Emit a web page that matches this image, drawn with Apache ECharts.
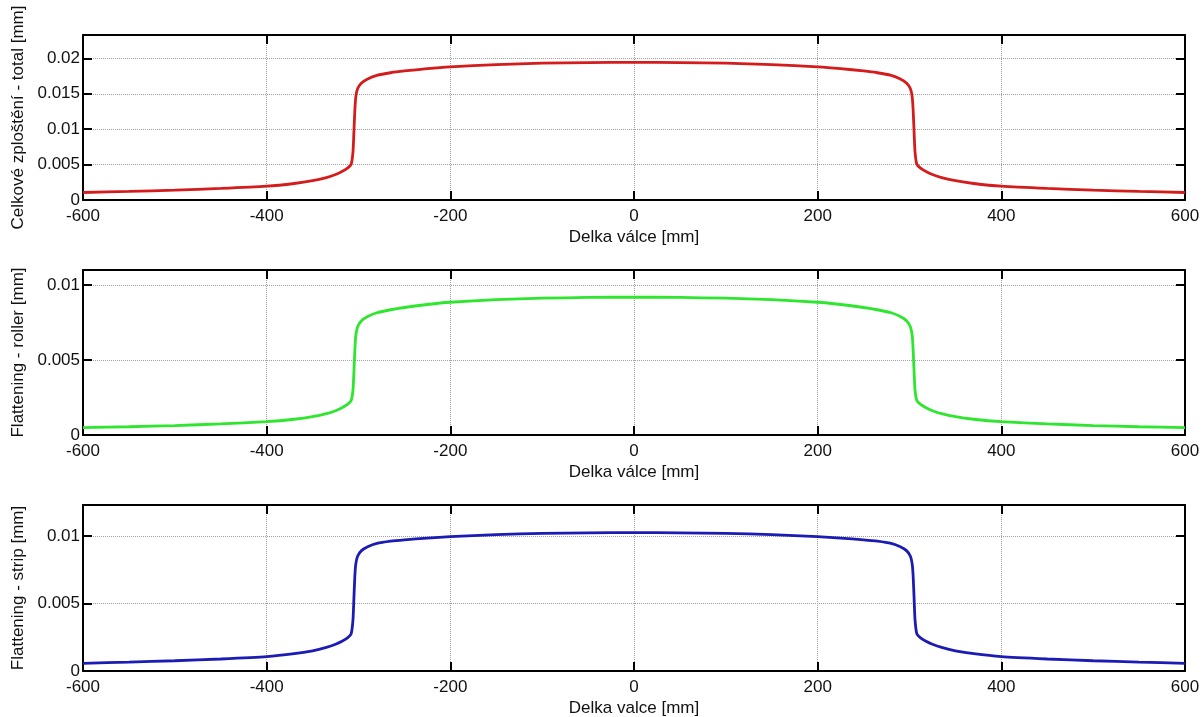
<!DOCTYPE html>
<html>
<head>
<meta charset="utf-8">
<script src="https://cdn.jsdelivr.net/npm/echarts@6/dist/echarts.min.js"></script>
<style>
  html, body { margin: 0; padding: 0; background: #fff; }
  #main { width: 1203px; height: 717px; }
</style>
</head>
<body>
<div id="main"></div>
<script>
// roller length positions [mm]
var xs = [-600, -550, -500, -450, -400, -370, -350, -335, -325, -318, -312, -308, -306, -305, -304, -303, -301, -297, -290, -280, -265, -250, -225, -200, -150, -100, -50, 0,
          50, 100, 150, 200, 225, 250, 265, 280, 290, 297, 301, 303, 304, 305, 306, 308, 312, 318, 325, 335, 350, 370, 400, 450, 500, 550, 600];

// total flattening [mm]
var total = [0.00106, 0.00121, 0.00139, 0.00163, 0.00195, 0.00233, 0.00272, 0.00317, 0.00360, 0.00402, 0.00449, 0.00505, 0.00680, 0.00960, 0.01260, 0.01450, 0.01570, 0.01650, 0.01710, 0.01760, 0.01797, 0.01822, 0.01855, 0.01880, 0.01912, 0.01932, 0.01941, 0.01944,
             0.01941, 0.01932, 0.01912, 0.01880, 0.01855, 0.01822, 0.01797, 0.01760, 0.01710, 0.01650, 0.01570, 0.01450, 0.01260, 0.00960, 0.00680, 0.00505, 0.00449, 0.00402, 0.00360, 0.00317, 0.00272, 0.00233, 0.00195, 0.00163, 0.00139, 0.00121, 0.00106];

// roller flattening [mm]
var roller = [0.00049, 0.00055, 0.00063, 0.00074, 0.00089, 0.00105, 0.00122, 0.00142, 0.00162, 0.00182, 0.00204, 0.00230, 0.00300, 0.00420, 0.00560, 0.00660, 0.00720, 0.00760, 0.00790, 0.00815, 0.00835, 0.00850, 0.00870, 0.00885, 0.00902, 0.00912, 0.00917, 0.00919,
              0.00917, 0.00912, 0.00902, 0.00885, 0.00870, 0.00850, 0.00835, 0.00815, 0.00790, 0.00760, 0.00720, 0.00660, 0.00560, 0.00420, 0.00300, 0.00230, 0.00204, 0.00182, 0.00162, 0.00142, 0.00122, 0.00105, 0.00089, 0.00074, 0.00063, 0.00055, 0.00049];

// strip flattening [mm]
var strip = [0.00057, 0.00066, 0.00076, 0.00089, 0.00106, 0.00128, 0.00150, 0.00175, 0.00198, 0.00220, 0.00245, 0.00275, 0.00380, 0.00540, 0.00700, 0.00790, 0.00850, 0.00890, 0.00920, 0.00945, 0.00962, 0.00972, 0.00985, 0.00995, 0.01010, 0.01020, 0.01024, 0.01025,
             0.01024, 0.01020, 0.01010, 0.00995, 0.00985, 0.00972, 0.00962, 0.00945, 0.00920, 0.00890, 0.00850, 0.00790, 0.00700, 0.00540, 0.00380, 0.00275, 0.00245, 0.00220, 0.00198, 0.00175, 0.00150, 0.00128, 0.00106, 0.00089, 0.00076, 0.00066, 0.00057];

var yNames = ['Celkové zploštění - total [mm]', 'Flattening - roller [mm]', 'Flattening - strip [mm]'];
var xNames = ['Delka válce [mm]', 'Delka válce [mm]', 'Delka valce [mm]'];
var yMax = [0.0233, 0.011, 0.0123];
var colors = ['#d41c1c', '#2ee62e', '#1c1cb4'];
var seriesData = [total, roller, strip];

var font = 'Liberation Sans, Arial, sans-serif';
var grids = [
  { left: 83, top: 35, width: 1102, height: 165, outerBoundsMode: 'none' },
  { left: 83, top: 270, width: 1102, height: 165, outerBoundsMode: 'none' },
  { left: 83, top: 505, width: 1102, height: 166, outerBoundsMode: 'none' }
];

function pairs(ys) {
  return xs.map(function (x, i) { return [x, ys[i]]; });
}

var xAxis = [], yAxis = [], series = [];
var line = { show: true, onZero: false, lineStyle: { color: '#000', width: 2 } };
var tick = { show: true, inside: true, length: 9, lineStyle: { color: '#000', width: 2 } };
var grid = { show: true, lineStyle: { color: '#a0a0a0', width: 1, type: [1, 1] } };

for (var i = 0; i < 3; i++) {
  // bottom x axis with labels
  xAxis.push({
    type: 'value', gridIndex: i, min: -600, max: 600, interval: 200, position: 'bottom',
    name: xNames[i], nameLocation: 'middle', nameGap: 29,
    nameTextStyle: { color: '#111', fontSize: 17, fontFamily: font },
    axisLine: line, axisTick: tick, splitLine: grid,
    axisLabel: { color: '#111', fontSize: 17, fontFamily: font, margin: 8 }
  });
  // top x axis, ticks only
  xAxis.push({
    type: 'value', gridIndex: i, min: -600, max: 600, interval: 200, position: 'top',
    axisLine: line, axisTick: tick, splitLine: { show: false }, axisLabel: { show: false }
  });
  yAxis.push({
    type: 'value', gridIndex: i, min: 0, max: yMax[i], interval: 0.005, position: 'left',
    name: yNames[i], nameLocation: 'middle', nameGap: 56,
    nameTextStyle: { color: '#111', fontSize: 17, fontFamily: font },
    axisLine: line, axisTick: tick, splitLine: grid,
    axisLabel: {
      color: '#111', fontSize: 17, fontFamily: font, margin: 3, showMaxLabel: false,
      formatter: function (v) { return String(+v.toFixed(4)); }
    }
  });
  yAxis.push({
    type: 'value', gridIndex: i, min: 0, max: yMax[i], interval: 0.005, position: 'right',
    axisLine: line, axisTick: tick, splitLine: { show: false }, axisLabel: { show: false }
  });
  series.push({
    type: 'line', xAxisIndex: i * 2, yAxisIndex: i * 2, data: pairs(seriesData[i]),
    showSymbol: false, smooth: 0.2,
    lineStyle: { color: colors[i], width: 2.8 }, z: 3
  });
}

var chart = echarts.init(document.getElementById('main'));
chart.setOption({
  backgroundColor: '#fff',
  animation: false,
  grid: grids,
  xAxis: xAxis,
  yAxis: yAxis,
  series: series
});
</script>
</body>
</html>
